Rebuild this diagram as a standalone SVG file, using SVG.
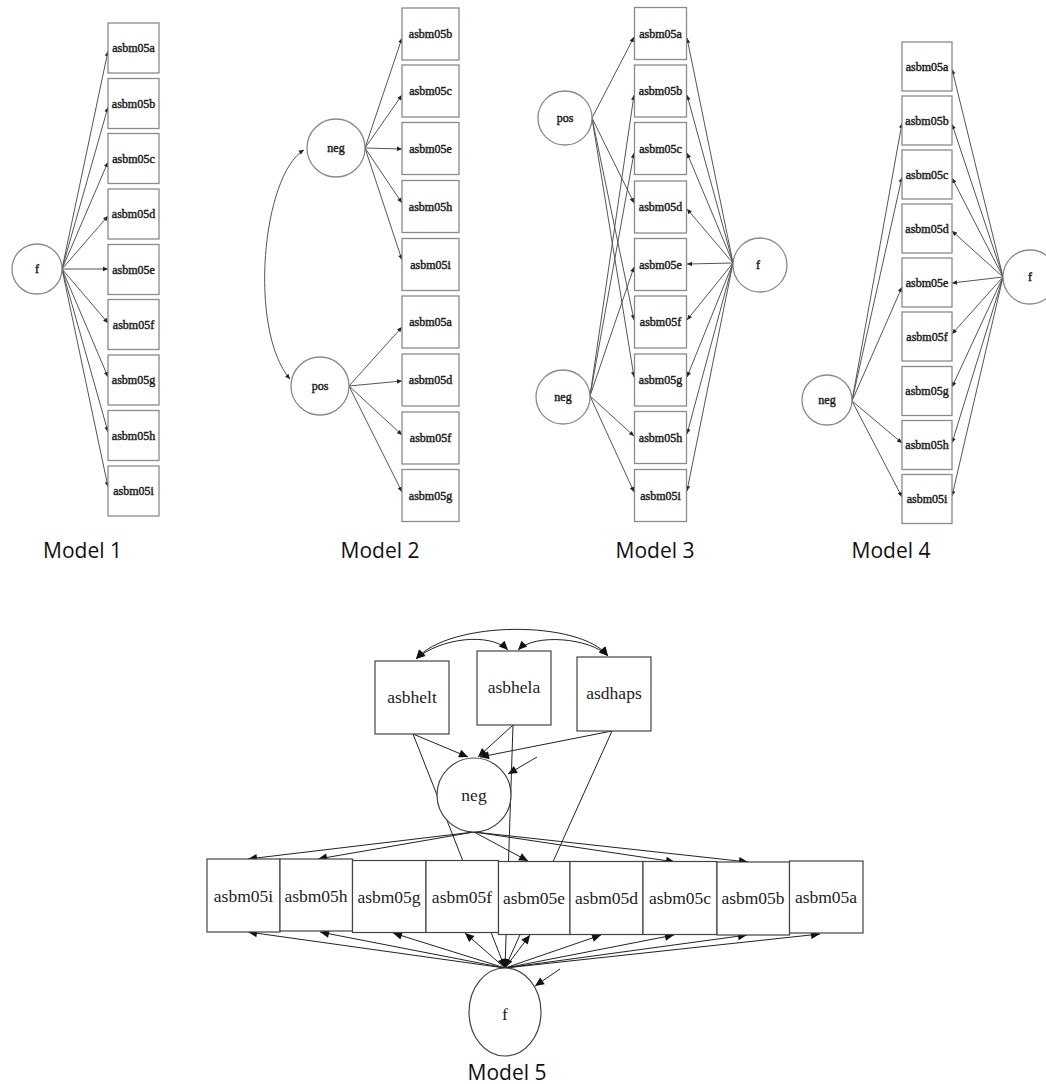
<svg xmlns="http://www.w3.org/2000/svg" width="1046" height="1084" viewBox="0 0 1046 1084">
<defs>
<marker id="s" viewBox="0 0 10 10" refX="10" refY="5" markerWidth="6" markerHeight="5" orient="auto-start-reverse" markerUnits="userSpaceOnUse"><path d="M0,0.5 L10,5 L0,9.5 z" fill="#222"/></marker>
<marker id="b" viewBox="0 0 10 10" refX="10" refY="5" markerWidth="11" markerHeight="9" orient="auto-start-reverse" markerUnits="userSpaceOnUse"><path d="M0,0.5 L10,5 L0,9.5 z" fill="#111"/></marker>
<style>
.bx{fill:#fff;stroke:#8a8a8a;stroke-width:1.3}
.bx5{fill:#fff;stroke:#444;stroke-width:1.2}
.ci{fill:#fff;stroke:#8a8a8a;stroke-width:1.3}
.ci5{fill:#fff;stroke:#444;stroke-width:1.2}
.t{font-family:"Liberation Serif",serif;font-size:12px;fill:#222;text-anchor:middle;stroke:#222;stroke-width:0.45}
.t5{font-family:"Liberation Serif",serif;font-size:17.5px;fill:#222;text-anchor:middle}
.lb{font-family:"Open Sans","Liberation Sans",sans-serif;font-size:21px;fill:#111;text-anchor:middle}
.e{fill:none;stroke:#555;stroke-width:1;marker-end:url(#s)}
.e5{fill:none;stroke:#222;stroke-width:1;marker-end:url(#b)}
.e5d{fill:none;stroke:#222;stroke-width:1;marker-end:url(#b);marker-start:url(#b)}
.ed{fill:none;stroke:#555;stroke-width:1;marker-end:url(#s);marker-start:url(#s)}
</style>
</defs>
<rect width="1046" height="1084" fill="#fff"/>

<g id="connectors">
<!-- Model 1 -->
<path class="e" d="M62,269 L108,51"/>
<path class="e" d="M62,269 L108,107"/>
<path class="e" d="M62,269 L108,162"/>
<path class="e" d="M62,269 L108,216"/>
<path class="e" d="M62,269 L108,269"/>
<path class="e" d="M62,269 L108,323"/>
<path class="e" d="M62,269 L108,377"/>
<path class="e" d="M62,269 L108,432"/>
<path class="e" d="M62,269 L108,487"/>
<!-- Model 2 -->
<path class="ed" d="M304,150 C262,175 248,330 290,379"/>
<path class="e" d="M365,148 L402,38"/>
<path class="e" d="M365,148 L402,95"/>
<path class="e" d="M365,148 L402,149"/>
<path class="e" d="M365,148 L402,203"/>
<path class="e" d="M365,148 L402,260"/>
<path class="e" d="M349,386 L402,327"/>
<path class="e" d="M349,386 L402,381"/>
<path class="e" d="M349,386 L402,435"/>
<path class="e" d="M349,386 L402,492"/>
<!-- Model 3 -->
<path class="e" d="M592,118 L634,37"/>
<path class="e" d="M592,118 L634,203"/>
<path class="e" d="M592,118 L634,320"/>
<path class="e" d="M592,118 L634,377"/>
<path class="e" d="M590,396 L634,95"/>
<path class="e" d="M590,396 L634,153"/>
<path class="e" d="M590,396 L634,267"/>
<path class="e" d="M590,396 L634,436"/>
<path class="e" d="M590,396 L634,492"/>
<path class="e" d="M733,263 L687,38"/>
<path class="e" d="M733,263 L687,95"/>
<path class="e" d="M733,263 L687,153"/>
<path class="e" d="M733,263 L687,209"/>
<path class="e" d="M733,263 L687,264"/>
<path class="e" d="M733,263 L687,320"/>
<path class="e" d="M733,263 L687,377"/>
<path class="e" d="M733,263 L687,434"/>
<path class="e" d="M733,263 L687,491"/>
<!-- Model 4 -->
<path class="e" d="M852,401 L902,123"/>
<path class="e" d="M852,401 L902,177"/>
<path class="e" d="M852,401 L902,287"/>
<path class="e" d="M852,401 L902,443"/>
<path class="e" d="M852,401 L902,497"/>
<path class="e" d="M1003,277 L952,69"/>
<path class="e" d="M1003,277 L952,124"/>
<path class="e" d="M1003,277 L952,178"/>
<path class="e" d="M1003,277 L952,231"/>
<path class="e" d="M1003,277 L952,283"/>
<path class="e" d="M1003,277 L952,334"/>
<path class="e" d="M1003,277 L952,387"/>
<path class="e" d="M1003,277 L952,443"/>
<path class="e" d="M1003,277 L952,496"/>
<!-- Model 5 -->
<path class="e5d" d="M416,659 C450,620 580,620 608,656"/>
<path class="e5d" d="M416,659 C440,638 490,632 508,650"/>
<path class="e5d" d="M518,650 C535,633 590,638 608,656"/>
<path class="e5" d="M413,734 L468,757"/>
<path class="e5" d="M513,725 L478,757"/>
<path class="e5" d="M612,731 L480,757"/>
<path class="e5" d="M537,757 L508,774"/>
<path class="e5" d="M413,734 L505,968"/>
<path class="e5" d="M513,725 L505,968"/>
<path class="e5" d="M612,731 L505,968"/>
<path class="e5" d="M474,832 L248,859"/>
<path class="e5" d="M474,832 L318,859"/>
<path class="e5" d="M474,832 L528,861"/>
<path class="e5" d="M474,832 L675,862"/>
<path class="e5" d="M474,832 L748,862"/>
<path class="e5" d="M505,968 L248,932"/>
<path class="e5" d="M505,968 L320,932"/>
<path class="e5" d="M505,968 L393,933"/>
<path class="e5" d="M505,968 L465,933"/>
<path class="e5" d="M505,968 L530,935"/>
<path class="e5" d="M505,968 L601,935"/>
<path class="e5" d="M505,968 L674,935"/>
<path class="e5" d="M505,968 L747,935"/>
<path class="e5" d="M505,968 L820,934"/>
<path class="e5" d="M560,969 L535,986"/>
</g>

<!-- Model 1 nodes -->
<g id="m1_f"><circle class="ci" cx="37" cy="269" r="25"/><text class="t" x="37" y="273">f</text></g>
<g id="m1_a"><rect class="bx" x="108" y="23" width="51" height="50"/><text class="t" x="133.5" y="52">asbm05a</text></g>
<g id="m1_b"><rect class="bx" x="108" y="78.5" width="51" height="50"/><text class="t" x="133.5" y="107.5">asbm05b</text></g>
<g id="m1_c"><rect class="bx" x="108" y="133.5" width="51" height="50"/><text class="t" x="133.5" y="162.5">asbm05c</text></g>
<g id="m1_d"><rect class="bx" x="108" y="189" width="51" height="50"/><text class="t" x="133.5" y="218">asbm05d</text></g>
<g id="m1_e"><rect class="bx" x="108" y="244.5" width="51" height="50"/><text class="t" x="133.5" y="273.5">asbm05e</text></g>
<g id="m1_f2"><rect class="bx" x="108" y="299.5" width="51" height="50"/><text class="t" x="133.5" y="328.5">asbm05f</text></g>
<g id="m1_g"><rect class="bx" x="108" y="355" width="51" height="50"/><text class="t" x="133.5" y="384">asbm05g</text></g>
<g id="m1_h"><rect class="bx" x="108" y="410.5" width="51" height="50"/><text class="t" x="133.5" y="439.5">asbm05h</text></g>
<g id="m1_i"><rect class="bx" x="108" y="466" width="51" height="50"/><text class="t" x="133.5" y="495">asbm05i</text></g>
<text class="lb" x="82.5" y="558">Model 1</text>

<!-- Model 2 nodes -->
<g id="m2_neg"><circle class="ci" cx="336" cy="148" r="29"/><text class="t" x="336" y="152">neg</text></g>
<g id="m2_pos"><circle class="ci" cx="320" cy="386" r="29"/><text class="t" x="320" y="390">pos</text></g>
<g id="m2_b"><rect class="bx" x="402" y="8" width="57" height="52"/><text class="t" x="430.5" y="38">asbm05b</text></g>
<g id="m2_c"><rect class="bx" x="402" y="65" width="57" height="52"/><text class="t" x="430.5" y="95">asbm05c</text></g>
<g id="m2_e"><rect class="bx" x="402" y="122.5" width="57" height="52"/><text class="t" x="430.5" y="152.5">asbm05e</text></g>
<g id="m2_h"><rect class="bx" x="402" y="180.5" width="57" height="52"/><text class="t" x="430.5" y="210.5">asbm05h</text></g>
<g id="m2_i"><rect class="bx" x="402" y="238.5" width="57" height="52"/><text class="t" x="430.5" y="268.5">asbm05i</text></g>
<g id="m2_a"><rect class="bx" x="402" y="296" width="57" height="52"/><text class="t" x="430.5" y="326">asbm05a</text></g>
<g id="m2_d"><rect class="bx" x="402" y="354" width="57" height="52"/><text class="t" x="430.5" y="384">asbm05d</text></g>
<g id="m2_f"><rect class="bx" x="402" y="412" width="57" height="52"/><text class="t" x="430.5" y="442">asbm05f</text></g>
<g id="m2_g"><rect class="bx" x="402" y="469.5" width="57" height="52"/><text class="t" x="430.5" y="499.5">asbm05g</text></g>
<text class="lb" x="380" y="558">Model 2</text>

<!-- Model 3 nodes -->
<g id="m3_pos"><circle class="ci" cx="565" cy="118" r="27"/><text class="t" x="565" y="122">pos</text></g>
<g id="m3_neg"><circle class="ci" cx="563" cy="397" r="27"/><text class="t" x="563" y="401">neg</text></g>
<g id="m3_f"><circle class="ci" cx="760" cy="265" r="27"/><text class="t" x="758" y="269">f</text></g>
<g id="m3_a"><rect class="bx" x="634.5" y="7.5" width="52" height="52"/><text class="t" x="660.5" y="37.5">asbm05a</text></g>
<g id="m3_b"><rect class="bx" x="634.5" y="65" width="52" height="52"/><text class="t" x="660.5" y="95">asbm05b</text></g>
<g id="m3_c"><rect class="bx" x="634.5" y="122.5" width="52" height="52"/><text class="t" x="660.5" y="152.5">asbm05c</text></g>
<g id="m3_d"><rect class="bx" x="634.5" y="181" width="52" height="52"/><text class="t" x="660.5" y="211">asbm05d</text></g>
<g id="m3_e"><rect class="bx" x="634.5" y="238.5" width="52" height="52"/><text class="t" x="660.5" y="268.5">asbm05e</text></g>
<g id="m3_f2"><rect class="bx" x="634.5" y="296" width="52" height="52"/><text class="t" x="660.5" y="326">asbm05f</text></g>
<g id="m3_g"><rect class="bx" x="634.5" y="354" width="52" height="52"/><text class="t" x="660.5" y="384">asbm05g</text></g>
<g id="m3_h"><rect class="bx" x="634.5" y="411.5" width="52" height="52"/><text class="t" x="660.5" y="441.5">asbm05h</text></g>
<g id="m3_i"><rect class="bx" x="634.5" y="469.5" width="52" height="52"/><text class="t" x="660.5" y="499.5">asbm05i</text></g>
<text class="lb" x="655" y="558">Model 3</text>

<!-- Model 4 nodes -->
<g id="m4_neg"><circle class="ci" cx="827" cy="400" r="25"/><text class="t" x="827" y="404">neg</text></g>
<g id="m4_f"><circle class="ci" cx="1030" cy="277" r="27"/><text class="t" x="1030" y="281">f</text></g>
<g id="m4_a"><rect class="bx" x="902" y="42" width="50" height="49"/><text class="t" x="927" y="70.5">asbm05a</text></g>
<g id="m4_b"><rect class="bx" x="902" y="96" width="50" height="49"/><text class="t" x="927" y="124.5">asbm05b</text></g>
<g id="m4_c"><rect class="bx" x="902" y="150" width="50" height="49"/><text class="t" x="927" y="178.5">asbm05c</text></g>
<g id="m4_d"><rect class="bx" x="902" y="204" width="50" height="49"/><text class="t" x="927" y="232.5">asbm05d</text></g>
<g id="m4_e"><rect class="bx" x="902" y="258" width="50" height="49"/><text class="t" x="927" y="286.5">asbm05e</text></g>
<g id="m4_f2"><rect class="bx" x="902" y="312" width="50" height="49"/><text class="t" x="927" y="340.5">asbm05f</text></g>
<g id="m4_g"><rect class="bx" x="902" y="366.5" width="50" height="49"/><text class="t" x="927" y="395">asbm05g</text></g>
<g id="m4_h"><rect class="bx" x="902" y="420.5" width="50" height="49"/><text class="t" x="927" y="449">asbm05h</text></g>
<g id="m4_i"><rect class="bx" x="902" y="474.5" width="50" height="49"/><text class="t" x="927" y="503">asbm05i</text></g>
<text class="lb" x="891" y="558">Model 4</text>

<!-- Model 5 nodes -->
<g id="m5_asbhelt"><rect class="bx5" x="375" y="661" width="74" height="73"/><text class="t5" x="412" y="703">asbhelt</text></g>
<g id="m5_asbhela"><rect class="bx5" x="477" y="651" width="74" height="74"/><text class="t5" x="514" y="693">asbhela</text></g>
<g id="m5_asdhaps"><rect class="bx5" x="577" y="657" width="74" height="74"/><text class="t5" x="614" y="699">asdhaps</text></g>
<g id="m5_neg"><circle class="ci5" cx="474" cy="795" r="37"/><text class="t5" x="474" y="801">neg</text></g>
<g id="m5_i"><rect class="bx5" x="207" y="859" width="73" height="73"/><text class="t5" x="243.5" y="902">asbm05i</text></g>
<g id="m5_h"><rect class="bx5" x="280" y="859" width="72.5" height="72"/><text class="t5" x="316" y="902">asbm05h</text></g>
<g id="m5_g"><rect class="bx5" x="352.5" y="860.5" width="73.5" height="72"/><text class="t5" x="389" y="903">asbm05g</text></g>
<g id="m5_f2"><rect class="bx5" x="426" y="860.5" width="72.5" height="72"/><text class="t5" x="462" y="903">asbm05f</text></g>
<g id="m5_e"><rect class="bx5" x="498.5" y="861.5" width="71.5" height="73"/><text class="t5" x="534" y="904">asbm05e</text></g>
<g id="m5_d"><rect class="bx5" x="570" y="861.5" width="73" height="73"/><text class="t5" x="606.5" y="904">asbm05d</text></g>
<g id="m5_c"><rect class="bx5" x="643" y="861.5" width="74" height="73"/><text class="t5" x="680" y="904">asbm05c</text></g>
<g id="m5_b"><rect class="bx5" x="717" y="862" width="72.5" height="73"/><text class="t5" x="753" y="904">asbm05b</text></g>
<g id="m5_a"><rect class="bx5" x="789.5" y="861" width="73.5" height="72"/><text class="t5" x="826" y="903">asbm05a</text></g>
<g id="m5_f"><ellipse class="ci5" cx="505" cy="1012" rx="36" ry="44"/><text class="t5" x="505" y="1020">f</text></g>
<text class="lb" x="507" y="1080">Model 5</text>
</svg>
